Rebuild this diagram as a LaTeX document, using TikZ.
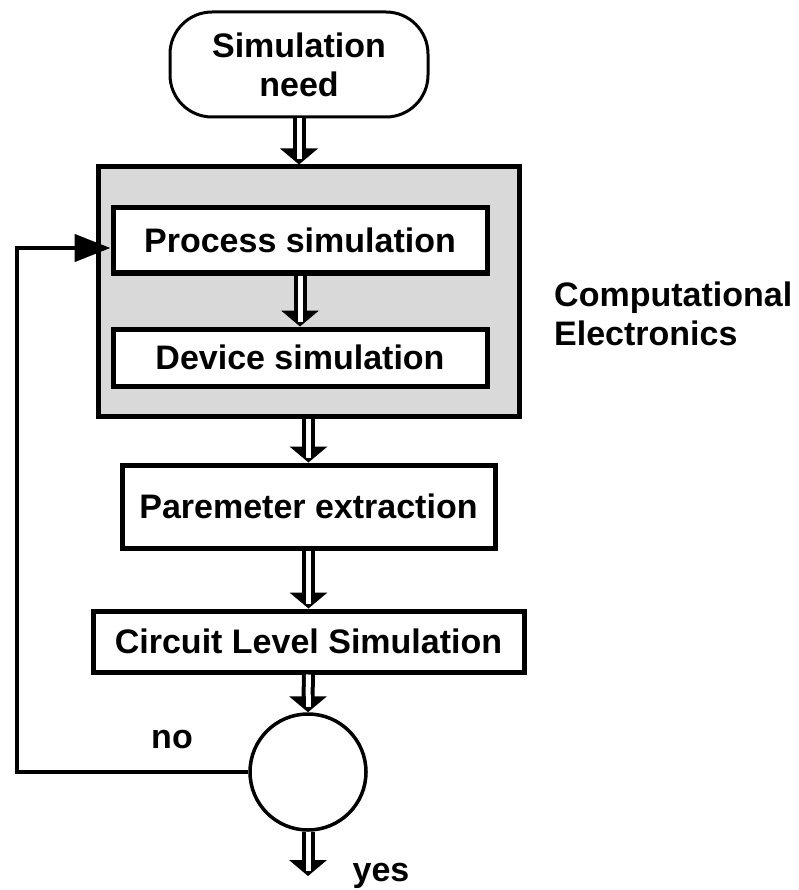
\documentclass[tikz,border=0pt]{standalone}
\usepackage{fontspec}
\setmainfont{Liberation Sans}
\usetikzlibrary{arrows.meta,calc}
\tikzset{
  txt/.style={font=\fontsize{34}{39}\selectfont\bfseries},
  box/.style={draw, line width=5pt, fill=white, inner sep=0pt, txt},
  lbl/.style={inner sep=0pt, txt},
  shaft/.style={draw=black, double=white, line width=4pt, double distance=5pt},
  fb/.style={line width=4.5pt, -{Triangle[length=36pt,width=27pt]}},
}
\newcommand\dblarr[2]{%
  \draw[shaft] (#1) -- ($(#2)+(0,-13)$);
  \fill ($(#2)+(-19,-16)$) -- (#2) -- ($(#2)+(19,-16)$) -- cycle;
  \draw[white, line width=5pt] ($(#2)+(0,-17)$) -- ($(#2)+(0,-5)$);
}
\begin{document}
\begin{tikzpicture}[x=1pt,y=-1pt]
\useasboundingbox (0,0) rectangle (798,890);
\node[draw, line width=3pt, rounded corners=42pt, minimum width=258pt, minimum height=105pt,
      inner sep=0pt, align=center, txt] (start) at (299,64.5) {Simulation\\need};
\node[draw, line width=5pt, fill=gray!30, minimum width=421pt, minimum height=249pt, inner sep=0pt] (ce) at (308.5,291.5) {};
\node[box, minimum width=374pt, minimum height=65pt] (proc) at (300,240.5) {Process simulation};
\node[box, minimum width=374pt, minimum height=57pt] (dev) at (300,357.5) {Device simulation};
\node[box, minimum width=373pt, minimum height=83pt] (par) at (308.5,506.5) {Paremeter extraction};
\node[box, minimum width=431pt, minimum height=61pt] (cir) at (308.5,641.5) {Circuit Level Simulation};
\node[draw, circle, line width=3.5pt, minimum size=116pt, inner sep=0pt] (dec) at (308,772) {};
\node[lbl, anchor=west, align=left] (celabel) at (554,314) {Computational\\Electronics};
\node[lbl, anchor=base] (no) at (172,748) {no};
\node[lbl, anchor=base] (yes) at (381,881) {yes};
\coordinate (t1) at (start.south |- ce.north);
\coordinate (s3) at (par.north |- ce.south);
\coordinate (yesend) at (308,876);
\coordinate (fbL) at (17,248);
\dblarr{start.south}{t1}
\dblarr{proc.south}{dev.north}
\dblarr{s3}{par.north}
\dblarr{par.south}{cir.north}
\dblarr{cir.south}{dec.north}
\dblarr{dec.south}{yesend}
\draw[fb] (dec.west) -| (fbL) -- (fbL -| proc.west);
\end{tikzpicture}
\end{document}
